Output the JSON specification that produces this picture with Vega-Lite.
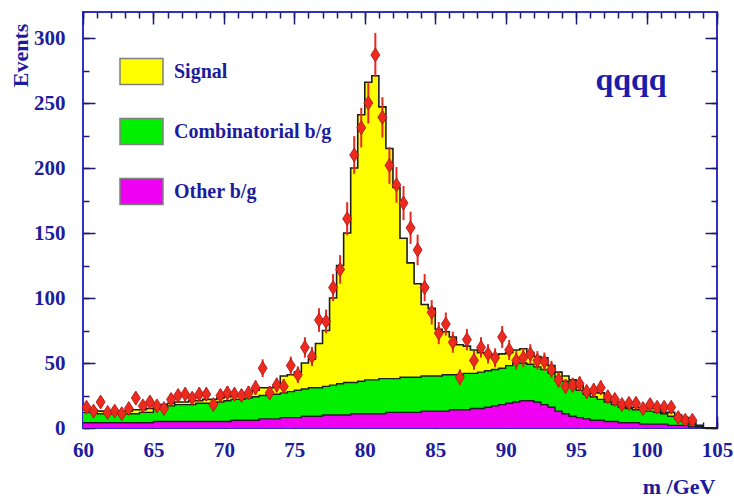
{
  "$schema": "https://vega.github.io/schema/vega-lite/v6.json",
  "width": 634,
  "height": 416,
  "autosize": {"type": "none"},
  "padding": {"left": 83, "top": 12, "right": 17, "bottom": 71},
  "background": "white",
  "config": {
    "view": {"stroke": "#3030c8", "strokeWidth": 2},
    "axis": {
      "grid": false,
      "domain": false,
      "labelFont": "Liberation Serif",
      "labelFontWeight": "bold",
      "labelFontSize": 21,
      "labelColor": "#1c1c9c",
      "tickColor": "#1a1a6e",
      "tickWidth": 1.5,
      "titleFont": "Liberation Serif",
      "titleFontWeight": "bold",
      "titleColor": "#1c1c9c",
      "labelFlush": false,
      "labelOverlap": false,
      "zindex": 1
    }
  },
  "datasets": {
    "hist": [
      {"m0": 60.0, "other": 4, "comb": 12, "total": 14},
      {"m0": 60.5, "other": 4, "comb": 12, "total": 14},
      {"m0": 61.0, "other": 4, "comb": 11, "total": 13},
      {"m0": 61.5, "other": 4, "comb": 11, "total": 13},
      {"m0": 62.0, "other": 4, "comb": 11, "total": 13},
      {"m0": 62.5, "other": 4, "comb": 11, "total": 13},
      {"m0": 63.0, "other": 4, "comb": 11, "total": 13},
      {"m0": 63.5, "other": 4, "comb": 11, "total": 14},
      {"m0": 64.0, "other": 4, "comb": 12, "total": 14},
      {"m0": 64.5, "other": 4, "comb": 12, "total": 15},
      {"m0": 65.0, "other": 5, "comb": 15, "total": 17},
      {"m0": 65.5, "other": 5, "comb": 16, "total": 18},
      {"m0": 66.0, "other": 5, "comb": 17, "total": 19},
      {"m0": 66.5, "other": 5, "comb": 18, "total": 20},
      {"m0": 67.0, "other": 5, "comb": 18, "total": 20},
      {"m0": 67.5, "other": 5, "comb": 18, "total": 21},
      {"m0": 68.0, "other": 5, "comb": 19, "total": 21},
      {"m0": 68.5, "other": 5, "comb": 19, "total": 22},
      {"m0": 69.0, "other": 5, "comb": 19, "total": 22},
      {"m0": 69.5, "other": 5, "comb": 20, "total": 23},
      {"m0": 70.0, "other": 5, "comb": 21, "total": 24},
      {"m0": 70.5, "other": 6, "comb": 22, "total": 25},
      {"m0": 71.0, "other": 6, "comb": 22, "total": 26},
      {"m0": 71.5, "other": 6, "comb": 23, "total": 27},
      {"m0": 72.0, "other": 6, "comb": 24, "total": 29},
      {"m0": 72.5, "other": 7, "comb": 25, "total": 31},
      {"m0": 73.0, "other": 7, "comb": 26, "total": 31},
      {"m0": 73.5, "other": 7, "comb": 26, "total": 32},
      {"m0": 74.0, "other": 8, "comb": 27, "total": 40},
      {"m0": 74.5, "other": 8, "comb": 28, "total": 41},
      {"m0": 75.0, "other": 8, "comb": 29, "total": 43},
      {"m0": 75.5, "other": 9, "comb": 30, "total": 50},
      {"m0": 76.0, "other": 9, "comb": 31, "total": 53},
      {"m0": 76.5, "other": 9, "comb": 31, "total": 65},
      {"m0": 77.0, "other": 10, "comb": 32, "total": 75},
      {"m0": 77.5, "other": 10, "comb": 33, "total": 100},
      {"m0": 78.0, "other": 10, "comb": 34, "total": 125},
      {"m0": 78.5, "other": 10, "comb": 35, "total": 150},
      {"m0": 79.0, "other": 11, "comb": 35, "total": 200},
      {"m0": 79.5, "other": 11, "comb": 36, "total": 241},
      {"m0": 80.0, "other": 11, "comb": 37, "total": 266},
      {"m0": 80.5, "other": 11, "comb": 37, "total": 271},
      {"m0": 81.0, "other": 11, "comb": 38, "total": 247},
      {"m0": 81.5, "other": 12, "comb": 38, "total": 215},
      {"m0": 82.0, "other": 12, "comb": 38, "total": 185},
      {"m0": 82.5, "other": 12, "comb": 39, "total": 146},
      {"m0": 83.0, "other": 12, "comb": 39, "total": 127},
      {"m0": 83.5, "other": 12, "comb": 39, "total": 111},
      {"m0": 84.0, "other": 13, "comb": 40, "total": 95},
      {"m0": 84.5, "other": 13, "comb": 40, "total": 92},
      {"m0": 85.0, "other": 13, "comb": 40, "total": 76},
      {"m0": 85.5, "other": 13, "comb": 41, "total": 74},
      {"m0": 86.0, "other": 14, "comb": 41, "total": 70},
      {"m0": 86.5, "other": 14, "comb": 41, "total": 64},
      {"m0": 87.0, "other": 14, "comb": 42, "total": 63},
      {"m0": 87.5, "other": 15, "comb": 42, "total": 60},
      {"m0": 88.0, "other": 15, "comb": 43, "total": 58},
      {"m0": 88.5, "other": 16, "comb": 44, "total": 57},
      {"m0": 89.0, "other": 17, "comb": 45, "total": 56},
      {"m0": 89.5, "other": 18, "comb": 46, "total": 57},
      {"m0": 90.0, "other": 19, "comb": 48, "total": 58},
      {"m0": 90.5, "other": 20, "comb": 50, "total": 60},
      {"m0": 91.0, "other": 21, "comb": 50, "total": 61},
      {"m0": 91.5, "other": 21, "comb": 49, "total": 58},
      {"m0": 92.0, "other": 20, "comb": 47, "total": 55},
      {"m0": 92.5, "other": 18, "comb": 45, "total": 54},
      {"m0": 93.0, "other": 16, "comb": 42, "total": 48},
      {"m0": 93.5, "other": 13, "comb": 39, "total": 43},
      {"m0": 94.0, "other": 11, "comb": 36, "total": 40},
      {"m0": 94.5, "other": 9, "comb": 33, "total": 37},
      {"m0": 95.0, "other": 8, "comb": 29, "total": 33},
      {"m0": 95.5, "other": 7, "comb": 26, "total": 29},
      {"m0": 96.0, "other": 6, "comb": 24, "total": 27},
      {"m0": 96.5, "other": 6, "comb": 22, "total": 27},
      {"m0": 97.0, "other": 5, "comb": 20, "total": 22},
      {"m0": 97.5, "other": 5, "comb": 18, "total": 20},
      {"m0": 98.0, "other": 4, "comb": 16, "total": 17},
      {"m0": 98.5, "other": 4, "comb": 15, "total": 16},
      {"m0": 99.0, "other": 4, "comb": 14, "total": 16},
      {"m0": 99.5, "other": 3, "comb": 14, "total": 15},
      {"m0": 100.0, "other": 3, "comb": 13, "total": 15},
      {"m0": 100.5, "other": 3, "comb": 12, "total": 15},
      {"m0": 101.0, "other": 3, "comb": 11, "total": 12},
      {"m0": 101.5, "other": 2, "comb": 9, "total": 12},
      {"m0": 102.0, "other": 2, "comb": 7, "total": 10},
      {"m0": 102.5, "other": 2, "comb": 5, "total": 8},
      {"m0": 103.0, "other": 1, "comb": 3, "total": 5},
      {"m0": 103.5, "other": 1, "comb": 1, "total": 2},
      {"m0": 104.0, "other": 0, "comb": 0, "total": 0},
      {"m0": 104.5, "other": 0, "comb": 0, "total": 0},
      {"m0": 105.0, "other": 0, "comb": 0, "total": 0}
    ],
    "obs": [
      {"m": 60.25, "n": 16, "lo": 12, "hi": 20},
      {"m": 60.75, "n": 13, "lo": 9.4, "hi": 16.6},
      {"m": 61.25, "n": 20, "lo": 15.5, "hi": 24.5},
      {"m": 61.75, "n": 12, "lo": 8.5, "hi": 15.5},
      {"m": 62.25, "n": 13, "lo": 9.4, "hi": 16.6},
      {"m": 62.75, "n": 11, "lo": 7.7, "hi": 14.3},
      {"m": 63.25, "n": 15, "lo": 11.1, "hi": 18.9},
      {"m": 63.75, "n": 23, "lo": 18.2, "hi": 27.8},
      {"m": 64.25, "n": 17, "lo": 12.9, "hi": 21.1},
      {"m": 64.75, "n": 20, "lo": 15.5, "hi": 24.5},
      {"m": 65.25, "n": 17, "lo": 12.9, "hi": 21.1},
      {"m": 65.75, "n": 15, "lo": 11.1, "hi": 18.9},
      {"m": 66.25, "n": 22, "lo": 17.3, "hi": 26.7},
      {"m": 66.75, "n": 25, "lo": 20, "hi": 30},
      {"m": 67.25, "n": 26, "lo": 20.9, "hi": 31.1},
      {"m": 67.75, "n": 23, "lo": 18.2, "hi": 27.8},
      {"m": 68.25, "n": 26, "lo": 20.9, "hi": 31.1},
      {"m": 68.75, "n": 26, "lo": 20.9, "hi": 31.1},
      {"m": 69.25, "n": 18, "lo": 13.8, "hi": 22.2},
      {"m": 69.75, "n": 25, "lo": 20, "hi": 30},
      {"m": 70.25, "n": 27, "lo": 21.8, "hi": 32.2},
      {"m": 70.75, "n": 26, "lo": 20.9, "hi": 31.1},
      {"m": 71.25, "n": 25, "lo": 20, "hi": 30},
      {"m": 71.75, "n": 27, "lo": 21.8, "hi": 32.2},
      {"m": 72.25, "n": 31, "lo": 25.4, "hi": 36.6},
      {"m": 72.75, "n": 46, "lo": 39.2, "hi": 52.8},
      {"m": 73.25, "n": 27, "lo": 21.8, "hi": 32.2},
      {"m": 73.75, "n": 33, "lo": 27.3, "hi": 38.7},
      {"m": 74.25, "n": 32, "lo": 26.3, "hi": 37.7},
      {"m": 74.75, "n": 48, "lo": 41.1, "hi": 54.9},
      {"m": 75.25, "n": 41, "lo": 34.6, "hi": 47.4},
      {"m": 75.75, "n": 62, "lo": 54.1, "hi": 69.9},
      {"m": 76.25, "n": 55, "lo": 47.6, "hi": 62.4},
      {"m": 76.75, "n": 83, "lo": 73.9, "hi": 92.1},
      {"m": 77.25, "n": 82, "lo": 72.9, "hi": 91.1},
      {"m": 77.75, "n": 108, "lo": 97.6, "hi": 118.4},
      {"m": 78.25, "n": 122, "lo": 111, "hi": 133},
      {"m": 78.75, "n": 161, "lo": 148.3, "hi": 173.7},
      {"m": 79.25, "n": 210, "lo": 195.5, "hi": 224.5},
      {"m": 79.75, "n": 231, "lo": 215.8, "hi": 246.2},
      {"m": 80.25, "n": 250, "lo": 234.2, "hi": 265.8},
      {"m": 80.75, "n": 287, "lo": 270.1, "hi": 303.9},
      {"m": 81.25, "n": 239, "lo": 223.5, "hi": 254.5},
      {"m": 81.75, "n": 202, "lo": 187.8, "hi": 216.2},
      {"m": 82.25, "n": 187, "lo": 173.3, "hi": 200.7},
      {"m": 82.75, "n": 173, "lo": 159.8, "hi": 186.2},
      {"m": 83.25, "n": 154, "lo": 141.6, "hi": 166.4},
      {"m": 83.75, "n": 137, "lo": 125.3, "hi": 148.7},
      {"m": 84.25, "n": 108, "lo": 97.6, "hi": 118.4},
      {"m": 84.75, "n": 89, "lo": 79.6, "hi": 98.4},
      {"m": 85.25, "n": 73, "lo": 64.5, "hi": 81.5},
      {"m": 85.75, "n": 80, "lo": 71.1, "hi": 88.9},
      {"m": 86.25, "n": 66, "lo": 57.9, "hi": 74.1},
      {"m": 86.75, "n": 39, "lo": 32.8, "hi": 45.2},
      {"m": 87.25, "n": 68, "lo": 59.8, "hi": 76.2},
      {"m": 87.75, "n": 52, "lo": 44.8, "hi": 59.2},
      {"m": 88.25, "n": 62, "lo": 54.1, "hi": 69.9},
      {"m": 88.75, "n": 57, "lo": 49.5, "hi": 64.5},
      {"m": 89.25, "n": 54, "lo": 46.7, "hi": 61.3},
      {"m": 89.75, "n": 70, "lo": 61.6, "hi": 78.4},
      {"m": 90.25, "n": 60, "lo": 52.3, "hi": 67.7},
      {"m": 90.75, "n": 52, "lo": 44.8, "hi": 59.2},
      {"m": 91.25, "n": 54, "lo": 46.7, "hi": 61.3},
      {"m": 91.75, "n": 57, "lo": 49.5, "hi": 64.5},
      {"m": 92.25, "n": 52, "lo": 44.8, "hi": 59.2},
      {"m": 92.75, "n": 51, "lo": 43.9, "hi": 58.1},
      {"m": 93.25, "n": 45, "lo": 38.3, "hi": 51.7},
      {"m": 93.75, "n": 37, "lo": 30.9, "hi": 43.1},
      {"m": 94.25, "n": 32, "lo": 26.3, "hi": 37.7},
      {"m": 94.75, "n": 33, "lo": 27.3, "hi": 38.7},
      {"m": 95.25, "n": 34, "lo": 28.2, "hi": 39.8},
      {"m": 95.75, "n": 28, "lo": 22.7, "hi": 33.3},
      {"m": 96.25, "n": 29, "lo": 23.6, "hi": 34.4},
      {"m": 96.75, "n": 31, "lo": 25.4, "hi": 36.6},
      {"m": 97.25, "n": 24, "lo": 19.1, "hi": 28.9},
      {"m": 97.75, "n": 22, "lo": 17.3, "hi": 26.7},
      {"m": 98.25, "n": 18, "lo": 13.8, "hi": 22.2},
      {"m": 98.75, "n": 19, "lo": 14.6, "hi": 23.4},
      {"m": 99.25, "n": 19, "lo": 14.6, "hi": 23.4},
      {"m": 99.75, "n": 15, "lo": 11.1, "hi": 18.9},
      {"m": 100.25, "n": 18, "lo": 13.8, "hi": 22.2},
      {"m": 100.75, "n": 16, "lo": 12, "hi": 20},
      {"m": 101.25, "n": 16, "lo": 12, "hi": 20},
      {"m": 101.75, "n": 16, "lo": 12, "hi": 20},
      {"m": 102.25, "n": 8, "lo": 5.2, "hi": 10.8},
      {"m": 102.75, "n": 6, "lo": 3.6, "hi": 8.4},
      {"m": 103.25, "n": 6, "lo": 3.6, "hi": 8.4}
    ],
    "tag": [{"m": 98.9, "n": 268, "t": "qqqq"}]
  },
  "resolve": {"axis": {"x": "independent", "y": "independent"}},
  "layer": [
    {
      "data": {"name": "hist"},
      "mark": {"type": "area", "interpolate": "step-after"},
      "encoding": {
        "x": {"field": "m0", "type": "quantitative",
              "scale": {"domain": [60, 105], "nice": false, "zero": false},
              "axis": {"orient": "bottom", "values": [60, 65, 70, 75, 80, 85, 90, 95, 100, 105],
                       "tickSize": -12, "labelPadding": 23,
                       "title": "m /GeV", "titleFontSize": 22, "titleAnchor": "end",
                       "titleX": 632, "titleY": 65, "titleAlign": "right", "titleBaseline": "alphabetic"}},
        "y": {"field": "other", "type": "quantitative", "stack": null,
              "scale": {"domain": [0, 320], "nice": false},
              "axis": {"orient": "left", "values": [0, 50, 100, 150, 200, 250, 300],
                       "tickSize": -12, "labelPadding": 30,
                       "title": "Events", "titleFontSize": 22, "titleAngle": -90,
                       "titleX": -63, "titleY": 43, "titleAlign": "center", "titleBaseline": "middle"}},
        "y2": {"datum": 0},
        "color": {"datum": "Other b/g", "type": "nominal",
                  "scale": {"domain": ["Signal", "Combinatorial b/g", "Other b/g"],
                            "range": ["#ffff00", "#00f000", "#f000f0"]},
                  "legend": {"orient": "none", "legendX": 36, "legendY": 37, "title": null,
                             "symbolType": "M-1,-0.6H1V0.6H-1Z", "symbolSize": 1849,
                             "symbolStrokeColor": "#808080", "symbolStrokeWidth": 1.5,
                             "symbolOpacity": 1,
                             "labelFont": "Liberation Serif", "labelFontWeight": "bold",
                             "labelFontSize": 20, "labelColor": "#1c1c9c", "labelOffset": 10,
                             "labelLimit": 300, "rowPadding": 21, "padding": 0}}
      }
    },
    {
      "data": {"name": "hist"},
      "mark": {"type": "area", "interpolate": "step-after"},
      "encoding": {
        "x": {"field": "m0", "type": "quantitative",
              "scale": {"domain": [60, 105], "nice": false, "zero": false},
              "axis": {"orient": "bottom", "values": [60, 61, 62, 63, 64, 65, 66, 67, 68, 69, 70, 71, 72, 73, 74, 75, 76, 77, 78, 79, 80, 81, 82, 83, 84, 85, 86, 87, 88, 89, 90, 91, 92, 93, 94, 95, 96, 97, 98, 99, 100, 101, 102, 103, 104, 105],
                       "tickSize": -6, "labels": false, "title": null}},
        "y": {"field": "comb", "type": "quantitative", "stack": null,
              "scale": {"domain": [0, 320], "nice": false},
              "axis": {"orient": "left", "values": [0, 25, 50, 75, 100, 125, 150, 175, 200, 225, 250, 275, 300],
                       "tickSize": -6, "labels": false, "title": null}},
        "y2": {"field": "other"},
        "color": {"datum": "Combinatorial b/g", "type": "nominal"}
      }
    },
    {
      "data": {"name": "hist"},
      "mark": {"type": "area", "interpolate": "step-after"},
      "encoding": {
        "x": {"field": "m0", "type": "quantitative",
              "scale": {"domain": [60, 105], "nice": false, "zero": false},
              "axis": {"orient": "top", "values": [60, 65, 70, 75, 80, 85, 90, 95, 100, 105],
                       "tickSize": -12, "labels": false, "title": null}},
        "y": {"field": "total", "type": "quantitative", "stack": null,
              "scale": {"domain": [0, 320], "nice": false},
              "axis": {"orient": "right", "values": [0, 50, 100, 150, 200, 250, 300],
                       "tickSize": -12, "labels": false, "title": null}},
        "y2": {"field": "comb"},
        "color": {"datum": "Signal", "type": "nominal"}
      }
    },
    {
      "data": {"name": "hist"},
      "mark": {"type": "line", "interpolate": "step-after", "color": "#1e1e1e", "strokeWidth": 1.4},
      "encoding": {
        "x": {"field": "m0", "type": "quantitative",
              "scale": {"domain": [60, 105], "nice": false, "zero": false},
              "axis": {"orient": "top", "values": [60, 61, 62, 63, 64, 65, 66, 67, 68, 69, 70, 71, 72, 73, 74, 75, 76, 77, 78, 79, 80, 81, 82, 83, 84, 85, 86, 87, 88, 89, 90, 91, 92, 93, 94, 95, 96, 97, 98, 99, 100, 101, 102, 103, 104, 105],
                       "tickSize": -6, "labels": false, "title": null}},
        "y": {"field": "other", "type": "quantitative",
              "scale": {"domain": [0, 320], "nice": false},
              "axis": {"orient": "right", "values": [0, 25, 50, 75, 100, 125, 150, 175, 200, 225, 250, 275, 300],
                       "tickSize": -6, "labels": false, "title": null}}
      }
    },
    {
      "data": {"name": "hist"},
      "mark": {"type": "line", "interpolate": "step-after", "color": "#1e1e1e", "strokeWidth": 1.4},
      "encoding": {
        "x": {"field": "m0", "type": "quantitative", "scale": {"domain": [60, 105], "nice": false, "zero": false}, "axis": null},
        "y": {"field": "comb", "type": "quantitative", "scale": {"domain": [0, 320], "nice": false}, "axis": null}
      }
    },
    {
      "data": {"name": "hist"},
      "mark": {"type": "line", "interpolate": "step-after", "color": "#1e1e1e", "strokeWidth": 1.6},
      "encoding": {
        "x": {"field": "m0", "type": "quantitative", "scale": {"domain": [60, 105], "nice": false, "zero": false}, "axis": null},
        "y": {"field": "total", "type": "quantitative", "scale": {"domain": [0, 320], "nice": false}, "axis": null}
      }
    },
    {
      "data": {"name": "obs"},
      "mark": {"type": "rule", "color": "#e82a1e", "strokeWidth": 2},
      "encoding": {
        "x": {"field": "m", "type": "quantitative", "scale": {"domain": [60, 105], "nice": false, "zero": false}, "axis": null},
        "y": {"field": "lo", "type": "quantitative", "scale": {"domain": [0, 320], "nice": false}, "axis": null},
        "y2": {"field": "hi"}
      }
    },
    {
      "data": {"name": "obs"},
      "mark": {"type": "point", "shape": "M0,-1.4L0.9,0L0,1.4L-0.9,0Z", "filled": true,
               "fill": "#ee2a1e", "stroke": "#a81414", "strokeWidth": 0.8, "size": 100, "opacity": 1},
      "encoding": {
        "x": {"field": "m", "type": "quantitative", "scale": {"domain": [60, 105], "nice": false, "zero": false}, "axis": null},
        "y": {"field": "n", "type": "quantitative", "scale": {"domain": [0, 320], "nice": false}, "axis": null}
      }
    },
    {
      "data": {"name": "tag"},
      "mark": {"type": "text", "font": "Liberation Serif", "fontWeight": "bold", "fontSize": 32,
               "color": "#1c1caa", "align": "center", "baseline": "middle"},
      "encoding": {
        "x": {"field": "m", "type": "quantitative", "scale": {"domain": [60, 105], "nice": false, "zero": false}, "axis": null},
        "y": {"field": "n", "type": "quantitative", "scale": {"domain": [0, 320], "nice": false}, "axis": null},
        "text": {"field": "t"}
      }
    }
  ]
}
